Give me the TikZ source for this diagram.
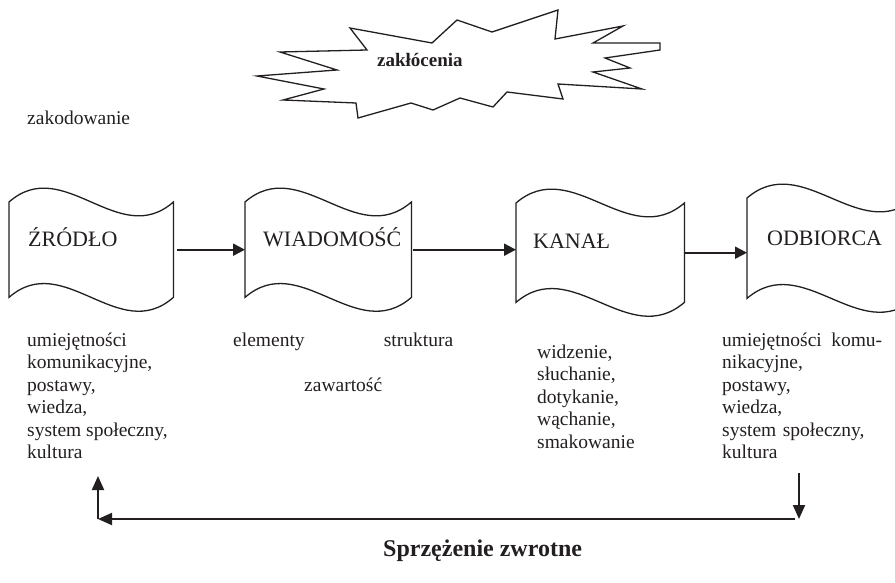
\documentclass[tikz,border=0pt]{standalone}
\usepackage{fontspec}
\setmainfont{Liberation Serif}
\usetikzlibrary{arrows.meta}
\definecolor{ink}{RGB}{35,31,32}
\newcommand\wavebx[6]{%
  \node[inner sep=0pt, minimum width=#4, minimum height=#5, anchor=north west] (#1) at (#2,#3) {};
  \draw[boxline] (#1.north west) .. controls +({#4/3},{-#6}) and +({-#4/3},{#6}) .. (#1.north east)
     -- (#1.south east) .. controls +({-#4/3},{#6}) and +({#4/3},{-#6}) .. (#1.south west) -- cycle;
}
\begin{document}
\begin{tikzpicture}[x=1pt,y=-1pt,
  boxline/.style={draw=ink, line width=1.3pt, fill=white, line join=miter},
  arr/.style={draw=ink, line width=2pt, -{Triangle[length=12pt,width=12pt]}},
  fb/.style={draw=ink, line width=2pt, -{Triangle[length=14pt,width=12pt]}},
  txt/.style={inner sep=0pt, text=ink, font=\fontsize{19.5}{22.5}\selectfont, anchor=north west, align=left},
  lbl/.style={inner sep=0pt, text=ink, font=\fontsize{22}{26}\selectfont, anchor=base west},
  bold/.style={inner sep=0pt, text=ink, anchor=base west}]
\useasboundingbox (0,0) rectangle (895,583);
\clip (0,0) rectangle (895,583);

% noise star
\draw[boxline] (257,76) -- (337,70) -- (280,52) -- (367,50) -- (350,28) -- (432,43) -- (457,20)
  -- (492,32) -- (558,10) -- (555,39) -- (623,26) -- (593,43) -- (660,43) -- (660,50) -- (605,58)
  -- (630,68) -- (593,72) -- (642,89) -- (558,84) -- (563,99) -- (507,92) -- (493,107) -- (460,98)
  -- (433,110) -- (411,103) -- (358,118) -- (356,103) -- (283,100) -- (324,89) -- cycle;
\node[bold, font=\bfseries\fontsize{19}{22}\selectfont] (noise) at (377,67) {zakłócenia};

\node[txt, anchor=base west] (enc) at (27,125) {zakodowanie};

% wave boxes
\wavebx{zrodlo}{9}{202}{164}{95}{48}
\wavebx{wiad}{245}{202}{166}{95}{48}
\wavebx{kanal}{516}{203}{168}{99}{48}
\wavebx{odb}{747}{198}{168}{100}{48}

\node[lbl] (lz) at (28,247) {ŹRÓDŁO};
\node[lbl] (lw) at (263,247) {WIADOMOŚĆ};
\node[lbl] (lk) at (533,248) {KANAŁ};
\node[lbl] (lo) at (767,245) {ODBIORCA};

\draw[arr, shorten <=4pt] (zrodlo.east) -- (zrodlo.east -| wiad.west);
\draw[arr, shorten <=2pt] (wiad.east) -- (wiad.east -| kanal.west);
\draw[arr] (kanal.east) -- (kanal.east -| odb.west);

% texts below
\node[txt] (tz) at (27,330.25) {\strut umiejętności\\komunikacyjne,\\postawy,\\wiedza,\\system społeczny,\\kultura};
\node[txt, text width=220pt] (tw) at (233,330.25) {\strut elementy\hfill struktura\\[22.5pt]\hbox to 220pt{\hfil zawartość\hfil}};
\node[txt] (tk) at (537,342.25) {\strut widzenie,\\słuchanie,\\dotykanie,\\wąchanie,\\smakowanie};
\node[txt, text width=160pt] (to) at (722,330.25) {\strut umiejętności\hfill komu-\\nikacyjne,\\postawy,\\wiedza,\\system społeczny,\\kultura};

% feedback loop
\coordinate (rtop) at (799,473);
\coordinate (rbot) at (799,519);
\coordinate (lcorner) at (98,519);
\coordinate (ltop) at (98,476);
\draw[fb] (rtop) -- (rbot);
\draw[fb] ([xshift=-4pt]rbot) -- (lcorner);
\draw[fb] (lcorner) -- (ltop);

\node[bold, font=\bfseries\fontsize{24}{28}\selectfont] (fbl) at (383,556) {Sprzężenie zwrotne};
\end{tikzpicture}
\end{document}
